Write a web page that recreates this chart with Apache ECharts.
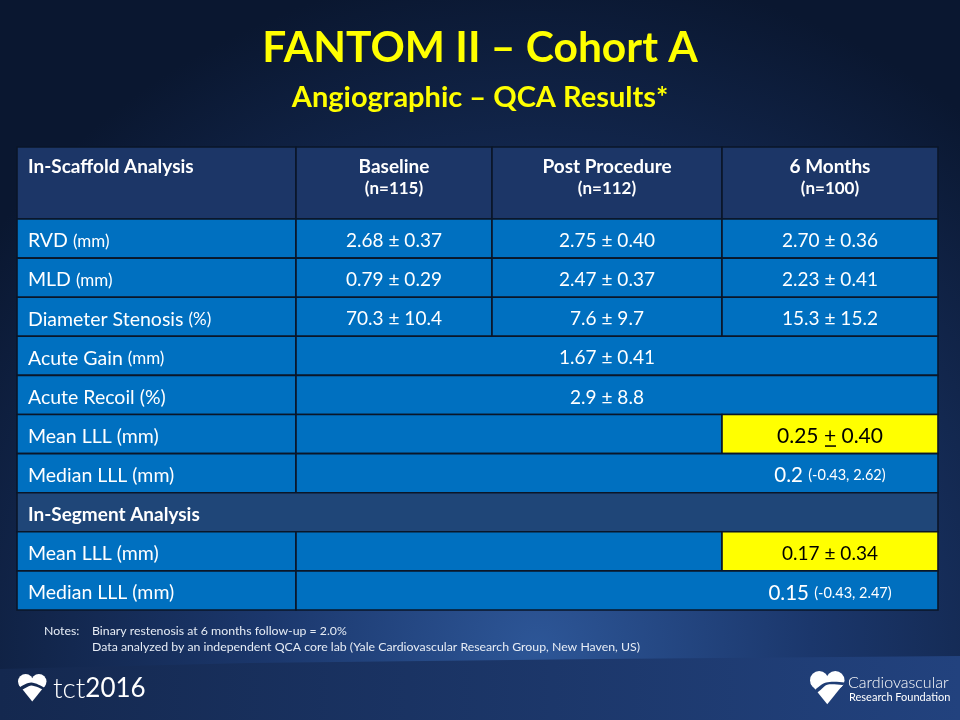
<!DOCTYPE html>
<html>
<head>
<meta charset="utf-8">
<script src="https://cdn.jsdelivr.net/npm/echarts@6/dist/echarts.min.js"></script>
<style>
  html, body { margin: 0; padding: 0; background: #0b1934; }
  #chart { width: 960px; height: 720px; }
</style>
</head>
<body>
<div id="chart"></div>
<script>
// ---- data ----
const title = 'FANTOM II – Cohort A';
const subtitle = 'Angiographic – QCA Results*';
const columnTitles = ['In-Scaffold Analysis', 'Baseline', 'Post Procedure', '6 Months'];
const columnN = ['', '(n=115)', '(n=112)', '(n=100)'];
const measures = ['RVD', 'MLD', 'Diameter Stenosis'];
const measureUnits = ['(mm)', '(mm)', '(%)'];
const baseline = ['2.68 ± 0.37', '0.79 ± 0.29', '70.3 ± 10.4'];
const postProcedure = ['2.75 ± 0.40', '2.47 ± 0.37', '7.6 ± 9.7'];
const sixMonths = ['2.70 ± 0.36', '2.23 ± 0.41', '15.3 ± 15.2'];
const acuteGain = '1.67 ± 0.41';
const acuteRecoil = '2.9 ± 8.8';
const scaffoldMeanLLL = ['0.25', '0.40'];
const scaffoldMedianLLL = ['0.2', '(-0.43, 2.62)'];
const segmentMeanLLL = '0.17 ± 0.34';
const segmentMedianLLL = ['0.15', '(-0.43, 2.47)'];
const notes = ['Binary restenosis at 6 months follow-up = 2.0%',
  'Data analyzed by an independent QCA core lab (Yale Cardiovascular Research Group, New Haven, US)'];

// ---- layout ----
const colWidths = [279, 196, 230, 216];
const headerH = 72, rowH = 39.1;
const colEdges = colWidths.reduce((a, w) => { a.push(a[a.length - 1] + w); return a; }, [0]);
const tableW = colEdges[colEdges.length - 1];
const tableH = headerH + rowH * 10;
const rowTop = r => r === 0 ? 0 : headerH + (r - 1) * rowH;
const rowBottom = r => r === 0 ? headerH : rowTop(r) + rowH;
const colMid = c => (colEdges[c] + colEdges[c + 1]) / 2;

const F = 'Lato, "Noto Sans", sans-serif';
const C_HEAD = '#1c3667', C_CELL = '#0070c0', C_SEG = '#1f4678', C_YEL = '#ffff00';

// cells: column span, row, fill, text pieces
const cells = [];
function cell(c0, c1, r, fill, texts) { cells.push({ c0, c1, r, fill, texts: texts || [] }); }

// header
cell(0, 1, 0, C_HEAD, [{ x: 11, dy: 20, align: 'left', text: '{hb|' + columnTitles[0] + '}' }]);
for (let c = 1; c < 4; c++) {
  cell(c, c + 1, 0, C_HEAD, [
    { x: colMid(c), dy: 20, align: 'center', text: '{hb|' + columnTitles[c] + '}' },
    { x: colMid(c), dy: 42, align: 'center', text: '{hn|' + columnN[c] + '}' }
  ]);
}
// per-visit rows
measures.forEach((m, i) => {
  const r = i + 1;
  cell(0, 1, r, C_CELL, [{ x: 11, align: 'left', text: '{l|' + m + ' }{u|' + measureUnits[i] + '}' }]);
  [baseline, postProcedure, sixMonths].forEach((arr, j) => {
    cell(j + 1, j + 2, r, C_CELL, [{ x: colMid(j + 1), align: 'center', text: '{v|' + arr[i] + '}' }]);
  });
});
cell(0, 1, 4, C_CELL, [{ x: 11, align: 'left', text: '{l|Acute Gain }{u|(mm)}' }]);
cell(1, 4, 4, C_CELL, [{ x: colMid(2), align: 'center', text: '{v|' + acuteGain + '}' }]);
cell(0, 1, 5, C_CELL, [{ x: 11, align: 'left', text: '{l|Acute Recoil (%)}' }]);
cell(1, 4, 5, C_CELL, [{ x: colMid(2), align: 'center', text: '{v|' + acuteRecoil + '}' }]);
cell(0, 1, 6, C_CELL, [{ x: 11, align: 'left', text: '{l|Mean LLL (mm)}' }]);
cell(1, 3, 6, C_CELL);
cell(3, 4, 6, C_YEL, [{ x: colMid(3), align: 'center', text: '{k|' + scaffoldMeanLLL[0] + ' + ' + scaffoldMeanLLL[1] + '}', underline: true }]);
cell(0, 1, 7, C_CELL, [{ x: 11, align: 'left', text: '{l|Median LLL (mm)}' }]);
cell(1, 4, 7, C_CELL, [{ x: colMid(3), align: 'center', text: '{m|' + scaffoldMedianLLL[0] + ' }{p|' + scaffoldMedianLLL[1] + '}' }]);
cell(0, 4, 8, C_SEG, [{ x: 11, align: 'left', text: '{hb|In-Segment Analysis}' }]);
cell(0, 1, 9, C_CELL, [{ x: 11, align: 'left', text: '{l|Mean LLL (mm)}' }]);
cell(1, 3, 9, C_CELL);
cell(3, 4, 9, C_YEL, [{ x: colMid(3), align: 'center', text: '{k2|' + segmentMeanLLL + '}' }]);
cell(0, 1, 10, C_CELL, [{ x: 11, align: 'left', text: '{l|Median LLL (mm)}' }]);
cell(1, 4, 10, C_CELL, [{ x: colMid(3), align: 'center', text: '{m|' + segmentMedianLLL[0] + ' }{p|' + segmentMedianLLL[1] + '}' }]);

const RICH = {
  hb: { fontFamily: F, fontSize: 19, fontWeight: 'bold', fill: '#fff' },
  hn: { fontFamily: F, fontSize: 17, fontWeight: 'bold', fill: '#fff' },
  l: { fontFamily: F, fontSize: 19.5, fill: '#fff' },
  u: { fontFamily: F, fontSize: 17, fill: '#fff' },
  v: { fontFamily: F, fontSize: 19, fill: '#fff' },
  m: { fontFamily: F, fontSize: 20.5, fill: '#fff' },
  p: { fontFamily: F, fontSize: 14.5, fill: '#fff' },
  k: { fontFamily: F, fontSize: 21, fill: '#000' },
  k2: { fontFamily: F, fontSize: 19, fill: '#000' }
};

const cellData = cells.map(c => [colEdges[c.c0], colEdges[c.c1], rowTop(c.r), rowBottom(c.r)]);

function renderCell(params, api) {
  const c = cells[params.dataIndex];
  const p0 = api.coord([api.value(0), api.value(2)]);
  const p1 = api.coord([api.value(1), api.value(3)]);
  const children = [{
    type: 'rect',
    shape: { x: p0[0], y: p0[1], width: p1[0] - p0[0], height: p1[1] - p0[1] },
    style: { fill: c.fill, stroke: '#0a1628', lineWidth: 1.6 }
  }];
  c.texts.forEach(t => {
    const tx = api.coord([t.x, 0])[0];
    const ty = t.dy != null ? p0[1] + t.dy : (p0[1] + p1[1]) / 2 + 2.5;
    children.push({
      type: 'text', x: tx, y: ty,
      style: { text: t.text, rich: RICH, align: t.align, verticalAlign: 'middle' }
    });
    if (t.underline) {
      children.push({
        type: 'line',
        shape: { x1: tx - 5, y1: ty + 9.5, x2: tx + 6, y2: ty + 9.5 },
        style: { stroke: '#000', lineWidth: 1.5 }
      });
    }
  });
  return { type: 'group', children };
}

// heart-shaped logo mark built from simple shapes
function heart(x, y, s, cutColor, cut) {
  return {
    type: 'group', x, y, silent: true,
    children: [
      { type: 'circle', shape: { cx: 8 * s, cy: 8 * s, r: 8 * s }, style: { fill: '#fff' } },
      { type: 'circle', shape: { cx: 22 * s, cy: 8 * s, r: 8 * s }, style: { fill: '#fff' } },
      { type: 'polygon', shape: { points: [[0.6 * s, 11 * s], [29.4 * s, 11 * s], [15 * s, 29 * s]] }, style: { fill: '#fff' } },
      { type: 'polygon', shape: { points: cut.map(p => [p[0] * s, p[1] * s]), smooth: 0.3 }, style: { fill: cutColor } }
    ]
  };
}

const chart = echarts.init(document.getElementById('chart'), null, { renderer: 'canvas' });
chart.setOption({
  animation: false,
  backgroundColor: '#0b1934',
  grid: { left: 17, top: 147, width: tableW, height: tableH },
  xAxis: { type: 'value', min: 0, max: tableW, show: false },
  yAxis: { type: 'value', min: 0, max: tableH, inverse: true, show: false },
  graphic: [
    {
      type: 'rect', z: -10, silent: true,
      shape: { x: 0, y: 0, width: 960, height: 720 },
      style: {
        fill: {
          type: 'radial', x: 0.56, y: 0.9, r: 0.95,
          colorStops: [
            { offset: 0, color: '#2d5697' },
            { offset: 0.4, color: '#1b376c' },
            { offset: 1, color: '#0a1730' }
          ]
        }
      }
    },
    {
      type: 'polygon', z: -9, silent: true,
      shape: { points: [[0, 669], [250, 663], [600, 659], [960, 656], [960, 720], [0, 720]], smooth: 0 },
      style: {
        fill: {
          type: 'linear', x: 0, y: 0, x2: 1, y2: 0,
          colorStops: [{ offset: 0, color: '#14284f' }, { offset: 1, color: '#22427e' }]
        }
      }
    },
    {
      type: 'text', left: 'center', top: 27,
      style: { text: title, fill: '#ffff00', font: 'bold 42.5px ' + F }
    },
    {
      type: 'text', left: 'center', top: 83,
      style: { text: subtitle, fill: '#ffff00', font: 'bold 29px ' + F }
    },
    { type: 'text', x: 44, y: 625, style: { text: 'Notes:', fill: '#e6ecf5', font: '12.3px ' + F } },
    { type: 'text', x: 92, y: 625, style: { text: notes[0], fill: '#e6ecf5', font: '12.3px ' + F } },
    { type: 'text', x: 92, y: 641, style: { text: notes[1], fill: '#e6ecf5', font: '12.3px ' + F } },
    // tct2016 logo
    heart(18, 674, 0.95, '#152a52', [[2, 14], [14, 9], [29, 15], [29, 17], [14, 12], [3, 17]]),
    {
      type: 'text', x: 53, y: 675,
      style: { text: '{a|tct}{b|2016}', rich: {
        a: { fontFamily: F, fontSize: 28, fill: '#fff', fontWeight: 300 },
        b: { fontFamily: F, fontSize: 26, fill: '#fff', fontWeight: 'normal' } } }
    },
    // CRF logo
    heart(810, 671, 1.15, '#1f3d75', [[4, 17], [14, 10], [30, 10], [30, 12], [15, 12], [6, 19]]),
    { type: 'text', x: 848, y: 675, style: { text: 'Cardiovascular', fill: '#fff', font: '300 16px ' + F } },
    { type: 'text', x: 849, y: 692, style: { text: 'Research Foundation', fill: '#fff', font: '11px ' + F } }
  ],
  series: [{
    type: 'custom',
    coordinateSystem: 'cartesian2d',
    renderItem: renderCell,
    data: cellData,
    silent: true
  }]
});
</script>
</body>
</html>
